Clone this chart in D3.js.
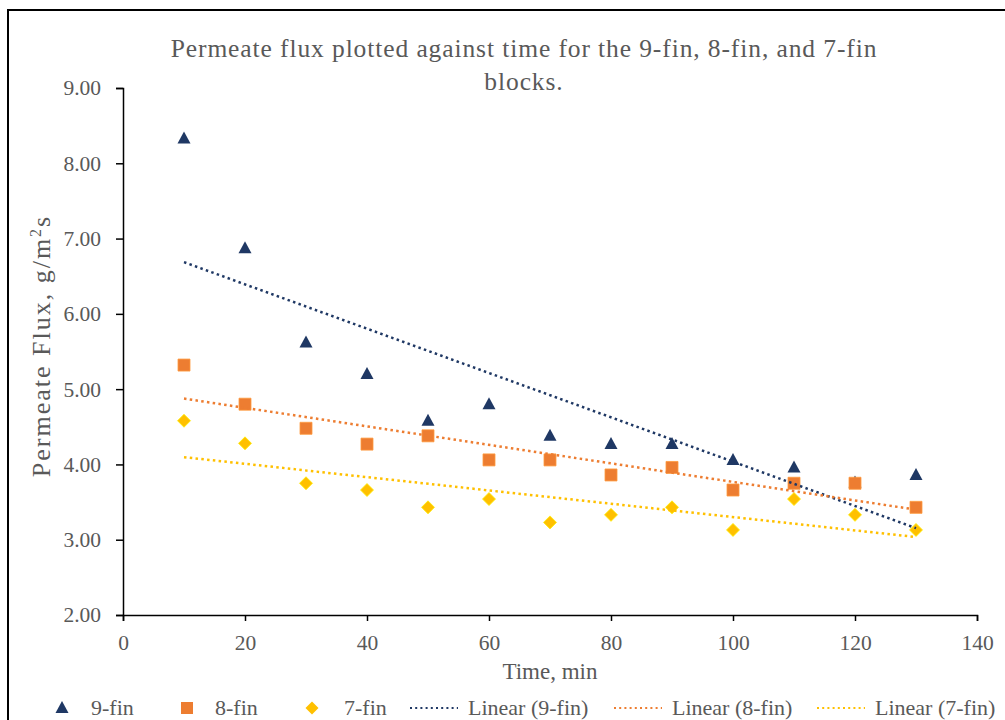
<!DOCTYPE html>
<html>
<head>
<meta charset="utf-8">
<script src="https://cdn.jsdelivr.net/npm/d3@7"></script>
<style>
  html, body { margin: 0; padding: 0; background: #fff; }
  svg { display: block; }
</style>
</head>
<body>
<svg id="chart" width="1005" height="720"></svg>
<script>
// ---- data ----
const time = [10, 20, 30, 40, 50, 60, 70, 80, 90, 100, 110, 120, 130];
const fin9 = [8.33, 6.87, 5.62, 5.20, 4.58, 4.80, 4.38, 4.27, 4.27, 4.06, 3.96, 3.76, 3.86];
const fin8 = [5.32, 4.80, 4.48, 4.27, 4.38, 4.06, 4.06, 3.86, 3.96, 3.66, 3.75, 3.75, 3.43];
const fin7 = [4.58, 4.28, 3.75, 3.66, 3.43, 3.54, 3.23, 3.33, 3.43, 3.13, 3.54, 3.33, 3.13];
const seriesNames = ["9-fin", "8-fin", "7-fin"];
const xTicks = [0, 20, 40, 60, 80, 100, 120, 140];
const yTicks = [2, 3, 4, 5, 6, 7, 8, 9];
const titleLines = ["Permeate flux plotted against time for the 9-fin, 8-fin, and 7-fin", "blocks."];
const xTitle = "Time, min";

const FONT = "'Liberation Serif', 'Times New Roman', Times, serif";
const TXT = "#595959";
const colors = ["#1F3864", "#ED7D31", "#FFC000"];
const seriesData = [fin9, fin8, fin7];

const svg = d3.select("#chart");
const x = d3.scaleLinear().domain([0, 140]).range([123, 977]);
const y = d3.scaleLinear().domain([2, 9]).range([615, 88]);

function txt(sel, size) {
  return sel.style("font-family", FONT).style("font-size", size + "px").attr("fill", TXT);
}

// chart area frame
svg.append("rect").attr("x", 8).attr("y", 10).attr("width", 1100).attr("height", 800)
  .attr("fill", "none").attr("stroke", "#000").attr("stroke-width", 2);

// title
const title = txt(svg.append("text").attr("text-anchor", "middle"), 25.5)
  .style("letter-spacing", "0.9px");
titleLines.forEach((t, i) => {
  title.append("tspan").attr("x", 524).attr("y", i === 0 ? 57 : 90).text(t);
});

// axes
const yAxis = svg.append("g").attr("transform", `translate(${x(0)},0)`)
  .call(d3.axisLeft(y).tickValues(yTicks).tickSize(7).tickPadding(15).tickFormat(d3.format(".2f")));
const xAxis = svg.append("g").attr("transform", `translate(0,${y(2)})`)
  .call(d3.axisBottom(x).tickValues(xTicks).tickSize(6).tickPadding(14).tickFormat(d3.format("d")));
[xAxis, yAxis].forEach(g => {
  g.attr("font-family", null).attr("font-size", null);
  g.select(".domain").attr("stroke", "#000").attr("stroke-width", 1.5);
  g.selectAll(".tick line").attr("stroke", "#000").attr("stroke-width", 1.5);
  txt(g.selectAll(".tick text"), 21.5);
});

// axis titles
txt(svg.append("text").attr("x", x(70)).attr("y", 679).attr("text-anchor", "middle"), 23).text(xTitle);
const yt = txt(svg.append("text").attr("transform", "translate(50,346) rotate(-90)")
  .attr("text-anchor", "middle"), 26).style("letter-spacing", "2px");
yt.append("tspan").text("Permeate Flux, g/m");
yt.append("tspan").attr("dy", -9).style("font-size", "16px").text("2");
yt.append("tspan").attr("dy", 9).text("s");

// marker shapes
const shapes = [
  d => `M${d[0]},${d[1] - 7}L${d[0] + 6.5},${d[1] + 5}L${d[0] - 6.5},${d[1] + 5}Z`,
  d => `M${d[0] - 6},${d[1] - 6}h12v12h-12Z`,
  d => `M${d[0]},${d[1] - 6.5}L${d[0] + 6.5},${d[1]}L${d[0]},${d[1] + 6.5}L${d[0] - 6.5},${d[1]}Z`
];

seriesData.forEach((vals, si) => {
  svg.append("g").selectAll("path").data(vals).join("path")
    .attr("d", (v, i) => shapes[si]([x(time[i]), y(v)]))
    .attr("fill", colors[si])
    .attr("stroke", si === 0 ? "none" : d3.color(colors[si]).brighter(0.6))
    .attr("stroke-width", 0.8);
});

// linear trendlines (least squares)
function fit(xs, ys) {
  const mx = d3.mean(xs), my = d3.mean(ys);
  let num = 0, den = 0;
  xs.forEach((xv, i) => { num += (xv - mx) * (ys[i] - my); den += (xv - mx) ** 2; });
  const b = num / den;
  return xv => my + b * (xv - mx);
}
seriesData.forEach((vals, si) => {
  const f = fit(time, vals);
  const x0 = d3.min(time), x1 = d3.max(time);
  svg.append("line")
    .attr("x1", x(x0)).attr("y1", y(f(x0)))
    .attr("x2", x(x1)).attr("y2", y(f(x1)))
    .attr("stroke", colors[si]).attr("stroke-width", 2.5)
    .attr("stroke-dasharray", "2.5,3.3");
});

// legend
const legY = 708;
const legend = svg.append("g");
const markerX = [62, 187, 312];
const textX1 = [91, 215, 344];
seriesNames.forEach((n, i) => {
  legend.append("path").attr("d", shapes[i]([markerX[i], legY])).attr("fill", colors[i]);
  txt(legend.append("text").attr("x", textX1[i]).attr("y", legY + 7), 22).text(n);
});
const lineX = [410, 614, 817];
const textX2 = [468, 672, 875];
seriesNames.forEach((n, i) => {
  legend.append("line").attr("x1", lineX[i]).attr("x2", lineX[i] + 48)
    .attr("y1", legY).attr("y2", legY)
    .attr("stroke", colors[i]).attr("stroke-width", 2.2).attr("stroke-dasharray", "2,3.2");
  txt(legend.append("text").attr("x", textX2[i]).attr("y", legY + 7), 22).text(`Linear (${n})`);
});
</script>
</body>
</html>
